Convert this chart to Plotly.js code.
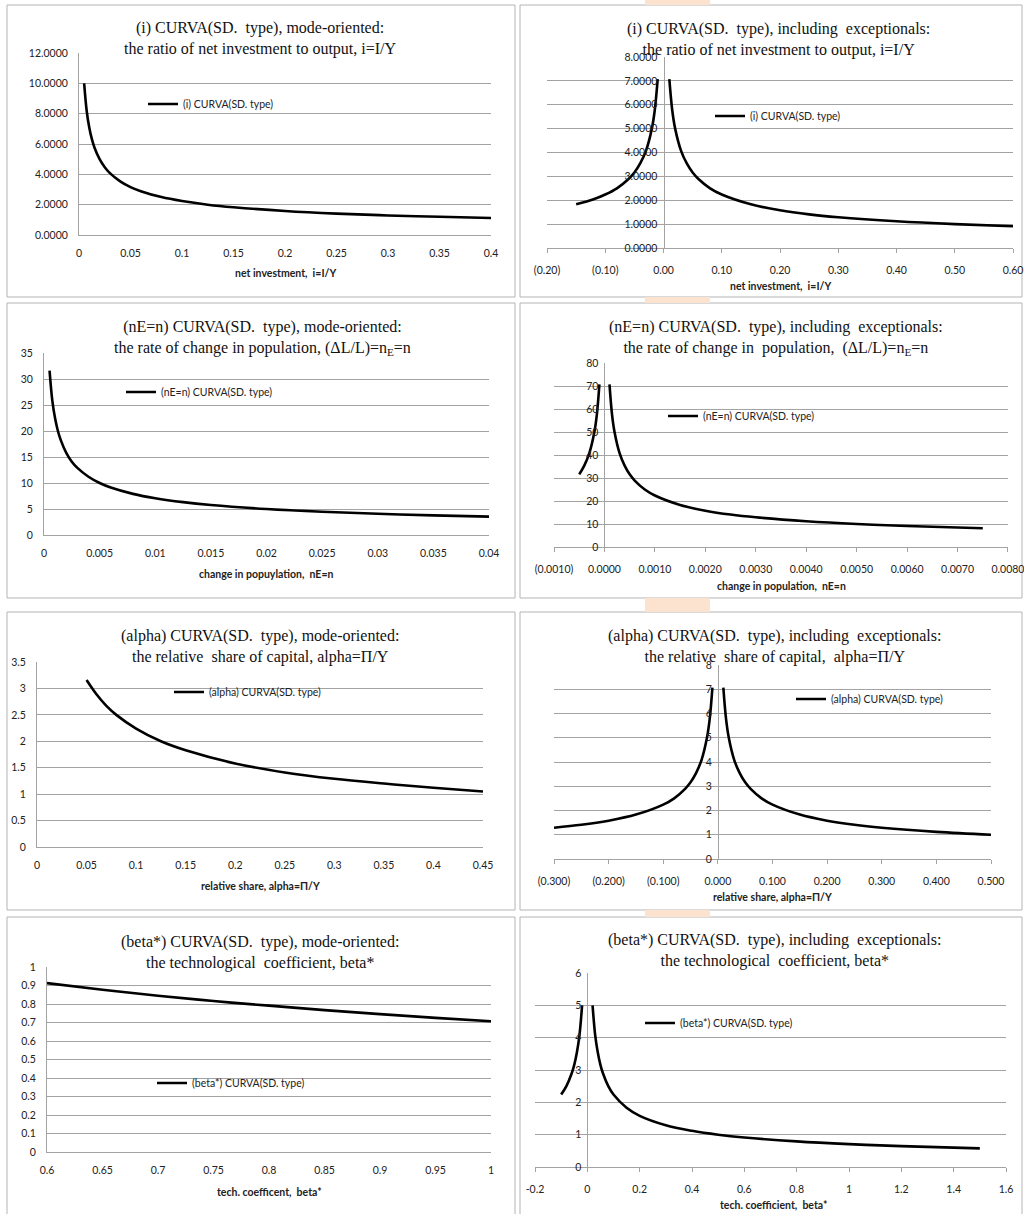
<!DOCTYPE html>
<html><head><meta charset="utf-8">
<script src="https://cdn.plot.ly/plotly-3.0.1.min.js"></script>
<style>html,body{margin:0;padding:0;background:#fff}#chart{width:1024px;height:1214px}</style>
</head><body><div id="chart"></div>
<script>
// ---------- DATA ----------
const seriesName1 = "(i) CURVA(SD. type)";
const seriesName2 = "(nE=n) CURVA(SD. type)";
const seriesName3 = "(alpha) CURVA(SD. type)";
const seriesName4 = "(beta*) CURVA(SD. type)";

// Panel 1: (i) mode-oriented
const p1X = [0.005,0.0075,0.01,0.0125,0.015,0.02,0.025,0.03,0.04,0.05,0.06,0.08,0.1,0.125,0.15,0.2,0.25,0.3,0.35,0.4];
const p1Y = [10.0,8.16,7.07,6.32,5.77,5.0,4.47,4.08,3.54,3.16,2.89,2.5,2.24,2.0,1.83,1.58,1.41,1.29,1.20,1.12];

// Panel 2: (i) including exceptionals
const p2LeftX  = [-0.15,-0.12,-0.1,-0.08,-0.06,-0.05,-0.04,-0.03,-0.02,-0.015,-0.01];
const p2LeftY  = [1.83,2.04,2.24,2.5,2.89,3.16,3.54,4.08,5.0,5.77,7.07];
const p2RightX = [0.01,0.015,0.02,0.03,0.04,0.05,0.06,0.08,0.1,0.15,0.2,0.25,0.3,0.4,0.5,0.6];
const p2RightY = [7.07,5.77,5.0,4.08,3.54,3.16,2.89,2.5,2.24,1.83,1.58,1.41,1.29,1.12,1.0,0.91];
const p2TickVals = [-0.2,-0.1,0,0.1,0.2,0.3,0.4,0.5,0.6];
const p2TickText = ["(0.20)","(0.10)","0.00","0.10","0.20","0.30","0.40","0.50","0.60"];

// Panel 3: (nE=n) mode-oriented
const p3X = [0.0005,0.00075,0.001,0.00125,0.0015,0.002,0.0025,0.003,0.004,0.005,0.006,0.008,0.01,0.0125,0.015,0.02,0.025,0.03,0.035,0.04];
const p3Y = [31.6,25.8,22.4,20.0,18.3,15.8,14.1,12.9,11.2,10.0,9.13,7.91,7.07,6.32,5.77,5.0,4.47,4.08,3.78,3.54];

// Panel 4: (nE=n) including exceptionals
const p4LeftX  = [-0.0005,-0.0004,-0.0003,-0.0002,-0.00015,-0.0001];
const p4LeftY  = [31.6,35.4,40.8,50.0,57.7,70.7];
const p4RightX = [0.0001,0.00015,0.0002,0.0003,0.0004,0.0005,0.0006,0.0008,0.001,0.0015,0.002,0.0025,0.003,0.004,0.005,0.006,0.0075];
const p4RightY = [70.7,57.7,50.0,40.8,35.4,31.6,28.9,25.0,22.4,18.3,15.8,14.1,12.9,11.2,10.0,9.13,8.16];
const p4TickVals = [-0.001,0,0.001,0.002,0.003,0.004,0.005,0.006,0.007,0.008];
const p4TickText = ["(0.0010)","0.0000","0.0010","0.0020","0.0030","0.0040","0.0050","0.0060","0.0070","0.0080"];

// Panel 5: (alpha) mode-oriented
const p5X = [0.05,0.06,0.07,0.08,0.1,0.125,0.15,0.2,0.25,0.3,0.35,0.4,0.45];
const p5Y = [3.16,2.89,2.67,2.5,2.24,2.0,1.83,1.58,1.41,1.29,1.20,1.12,1.05];

// Panel 6: (alpha) including exceptionals
const p6LeftX  = [-0.3,-0.25,-0.2,-0.15,-0.1,-0.08,-0.06,-0.05,-0.04,-0.03,-0.02,-0.015,-0.01];
const p6LeftY  = [1.29,1.41,1.58,1.83,2.24,2.5,2.89,3.16,3.54,4.08,5.0,5.77,7.07];
const p6RightX = [0.01,0.015,0.02,0.03,0.04,0.05,0.06,0.08,0.1,0.15,0.2,0.25,0.3,0.4,0.5];
const p6RightY = [7.07,5.77,5.0,4.08,3.54,3.16,2.89,2.5,2.24,1.83,1.58,1.41,1.29,1.12,1.0];
const p6TickVals = [-0.3,-0.2,-0.1,0,0.1,0.2,0.3,0.4,0.5];
const p6TickText = ["(0.300)","(0.200)","(0.100)","0.000","0.100","0.200","0.300","0.400","0.500"];

// Panel 7: (beta*) mode-oriented
const p7X = [0.6,0.65,0.7,0.75,0.8,0.85,0.9,0.95,1.0];
const p7Y = [0.913,0.877,0.845,0.816,0.791,0.767,0.745,0.725,0.707];

// Panel 8: (beta*) including exceptionals
const p8LeftX  = [-0.1,-0.08,-0.06,-0.05,-0.04,-0.03,-0.02];
const p8LeftY  = [2.24,2.5,2.89,3.16,3.54,4.08,5.0];
const p8RightX = [0.02,0.03,0.04,0.05,0.06,0.08,0.1,0.15,0.2,0.3,0.4,0.5,0.6,0.8,1.0,1.2,1.5];
const p8RightY = [5.0,4.08,3.54,3.16,2.89,2.5,2.24,1.83,1.58,1.29,1.12,1.0,0.913,0.791,0.707,0.645,0.577];
const p8TickVals = [-0.2,0,0.2,0.4,0.6,0.8,1,1.2,1.4,1.6];
const p8TickText = ["-0.2","0","0.2","0.4","0.6","0.8","1","1.2","1.4","1.6"];

const titles = [
  "(i) CURVA(SD.  type), mode-oriented:<br>the ratio of net investment to output, i=I/Y",
  "(i) CURVA(SD.  type), including  exceptionals:<br>the ratio of net investment to output, i=I/Y",
  "(nE=n) CURVA(SD.  type), mode-oriented:<br>the rate of change in population, (ΔL/L)=n<sub>E</sub>=n",
  "(nE=n) CURVA(SD.  type), including  exceptionals:<br>the rate of change in  population,  (ΔL/L)=n<sub>E</sub>=n",
  "(alpha) CURVA(SD.  type), mode-oriented:<br>the relative  share of capital, alpha=Π/Y",
  "(alpha) CURVA(SD.  type), including  exceptionals:<br>the relative  share of capital,  alpha=Π/Y",
  "(beta*) CURVA(SD.  type), mode-oriented:<br>the technological  coefficient, beta*",
  "(beta*) CURVA(SD.  type), including  exceptionals:<br>the technological  coefficient, beta*"
];
const axisTitles = [
  "net investment,  i=I/Y",
  "net investment,  i=I/Y",
  "change in popuylation,  nE=n",
  "change in population,  nE=n",
  "relative share, alpha=Π/Y",
  "relative share, alpha=Π/Y",
  "tech. coefficent,  beta*",
  "tech. coefficient,  beta*"
];

// ---------- LAYOUT ----------
const W = 1024, H = 1214;
const fx = v => v / W, fy = v => 1 - v / H;
const GRID = '#a3a3a3';
const SANS = 'Lato, "Open Sans", sans-serif';
const TICKFONT = {family: SANS, size: 10.5, color: '#222'};
const TITLEFONT = {family: '"Liberation Serif", "Times New Roman", serif', size: 16, color: '#111'};

const join = (a, b) => a.concat([null], b);
const panels = [
  {x: p1X, y: p1Y, name: seriesName1, box: [79,491,53,235], xr: [0,0.4], yr: [0,12], dx: 0.05, dy: 2, yfmt: '.4f', right: false,
   title: [260,38], axt: [285,273], leg: [143,104]},
  {x: join(p2LeftX,p2RightX), y: join(p2LeftY,p2RightY), name: seriesName1, box: [547,1013,57,248], xr: [-0.2,0.6], yr: [0,8], tv: p2TickVals, tt: p2TickText, dy: 1, yfmt: '.4f', right: true,
   title: [778,40], axt: [780,286], leg: [710,116]},
  {x: p3X, y: p3Y, name: seriesName2, box: [44,489,353,535], xr: [0,0.04], yr: [0,35], dx: 0.005, dy: 5, yfmt: '', right: false,
   title: [262,338], axt: [266,574], leg: [121,392]},
  {x: join(p4LeftX,p4RightX), y: join(p4LeftY,p4RightY), name: seriesName2, box: [554,1008,363,547], xr: [-0.0010001,0.0080001], yr: [0,80], tv: p4TickVals, tt: p4TickText, dy: 10, yfmt: '', right: true,
   title: [776,338], axt: [781,586], leg: [663,416]},
  {x: p5X, y: p5Y, name: seriesName3, box: [37,483,662,847], xr: [0,0.45], yr: [0,3.5], dx: 0.05, dy: 0.5, yfmt: '', right: false,
   title: [260,646], axt: [260,886], leg: [169,692]},
  {x: join(p6LeftX,p6RightX), y: join(p6LeftY,p6RightY), name: seriesName3, box: [554,991,665,859], xr: [-0.3,0.5], yr: [0,8], tv: p6TickVals, tt: p6TickText, dy: 1, yfmt: '', right: true,
   title: [774,646], axt: [772,897], leg: [791,699]},
  {x: p7X, y: p7Y, name: seriesName4, box: [47,491,967,1152], xr: [0.6,1], yr: [0,1], dx: 0.05, dy: 0.1, yfmt: '', right: false,
   title: [260,952], axt: [269,1192], leg: [152,1083]},
  {x: join(p8LeftX,p8RightX), y: join(p8LeftY,p8RightY), name: seriesName4, box: [535,1006,973,1167], xr: [-0.2,1.6], yr: [0,6], tv: p8TickVals, tt: p8TickText, dy: 1, yfmt: '', right: true,
   title: [774,950], axt: [773,1205], leg: [640,1023]}
];

const data = [];
const layout = {
  width: W, height: H, autosize: false,
  margin: {l: 0, r: 0, t: 0, b: 0, pad: 0},
  paper_bgcolor: '#fff', plot_bgcolor: 'rgba(0,0,0,0)',
  showlegend: true,
  annotations: [], shapes: []
};

// frames & background decorations
const frames = [[7,515,5,297],[520,1022,5,297],[7,515,303,598],[520,1022,303,598],
                [7,515,612,910],[520,1022,612,910],[7,515,917,1230],[520,1022,917,1230]];
frames.forEach(f => layout.shapes.push({type: 'rect', xref: 'paper', yref: 'paper', layer: 'below',
  x0: fx(f[0]), x1: fx(f[1]), y0: fy(f[3]), y1: fy(f[2]), line: {color: '#b4b4b4', width: 1}, fillcolor: '#fff'}));
[[0,5],[297,303],[598,612],[910,917]].forEach(g => layout.shapes.push({type: 'rect', xref: 'paper', yref: 'paper', layer: 'below',
  x0: fx(645), x1: fx(710), y0: fy(g[1]), y1: fy(g[0]), line: {width: 0}, fillcolor: '#fbe3cf'}));

panels.forEach((p, k) => {
  const i = k + 1, s = i === 1 ? '' : String(i);
  const [x0, x1, yt, yb] = p.box;
  const legKey = i === 1 ? 'legend' : 'legend' + i;
  data.push({type: 'scatter', mode: 'lines', x: p.x, y: p.y, name: p.name,
    xaxis: 'x' + s, yaxis: 'y' + s, legend: legKey, connectgaps: false,
    line: {color: '#000', width: 2.6, shape: 'spline', smoothing: 1}, hoverinfo: 'skip'});

  const xa = {domain: [fx(x0), fx(x1)], range: p.xr, anchor: 'y' + s, showgrid: false, zeroline: false,
    showline: true, linecolor: GRID, linewidth: 1, tickfont: TICKFONT, ticklabelstandoff: 8, fixedrange: true,
    ticklabeloverflow: 'allow'};
  if (p.tv) { xa.tickmode = 'array'; xa.tickvals = p.tv; xa.ticktext = p.tt; xa.ticks = 'outside'; xa.ticklen = 4; xa.tickcolor = GRID; }
  else { xa.tickmode = 'linear'; xa.tick0 = p.xr[0]; xa.dtick = p.dx; xa.ticks = ''; }
  const ya = {domain: [fy(yb), fy(yt)], range: p.yr, tickmode: 'linear', tick0: 0, dtick: p.dy,
    showgrid: true, gridcolor: GRID, gridwidth: 1, zeroline: false, showline: true, linecolor: GRID, linewidth: 1,
    tickfont: TICKFONT, ticks: '', ticklabelstandoff: 8, fixedrange: true};
  if (p.yfmt) ya.tickformat = p.yfmt;
  if (p.right) {
    ya.anchor = 'free';
    ya.position = fx(x0 + (0 - p.xr[0]) / (p.xr[1] - p.xr[0]) * (x1 - x0));
    ya.ticklabelstandoff = 4;
  } else {
    ya.anchor = 'x' + s;
  }
  layout['xaxis' + s] = xa;
  layout['yaxis' + s] = ya;

  layout[legKey] = {x: fx(p.leg[0]), y: fy(p.leg[1]), xanchor: 'left', yanchor: 'middle',
    bgcolor: 'rgba(0,0,0,0)', borderwidth: 0, font: {family: SANS, size: 10.5, color: '#222'},
    itemwidth: 30, tracegroupgap: 0};

  layout.annotations.push({xref: 'paper', yref: 'paper', x: fx(p.title[0]), y: fy(p.title[1]),
    xanchor: 'center', yanchor: 'middle', showarrow: false, text: titles[k], font: TITLEFONT, align: 'center'});
  layout.annotations.push({xref: 'paper', yref: 'paper', x: fx(p.axt[0]), y: fy(p.axt[1]),
    xanchor: 'center', yanchor: 'middle', showarrow: false, text: '<b>' + axisTitles[k] + '</b>',
    font: {family: SANS, size: 10.5, color: '#222'}});
});

Plotly.newPlot('chart', data, layout, {staticPlot: true, displayModeBar: false});
</script></body></html>
